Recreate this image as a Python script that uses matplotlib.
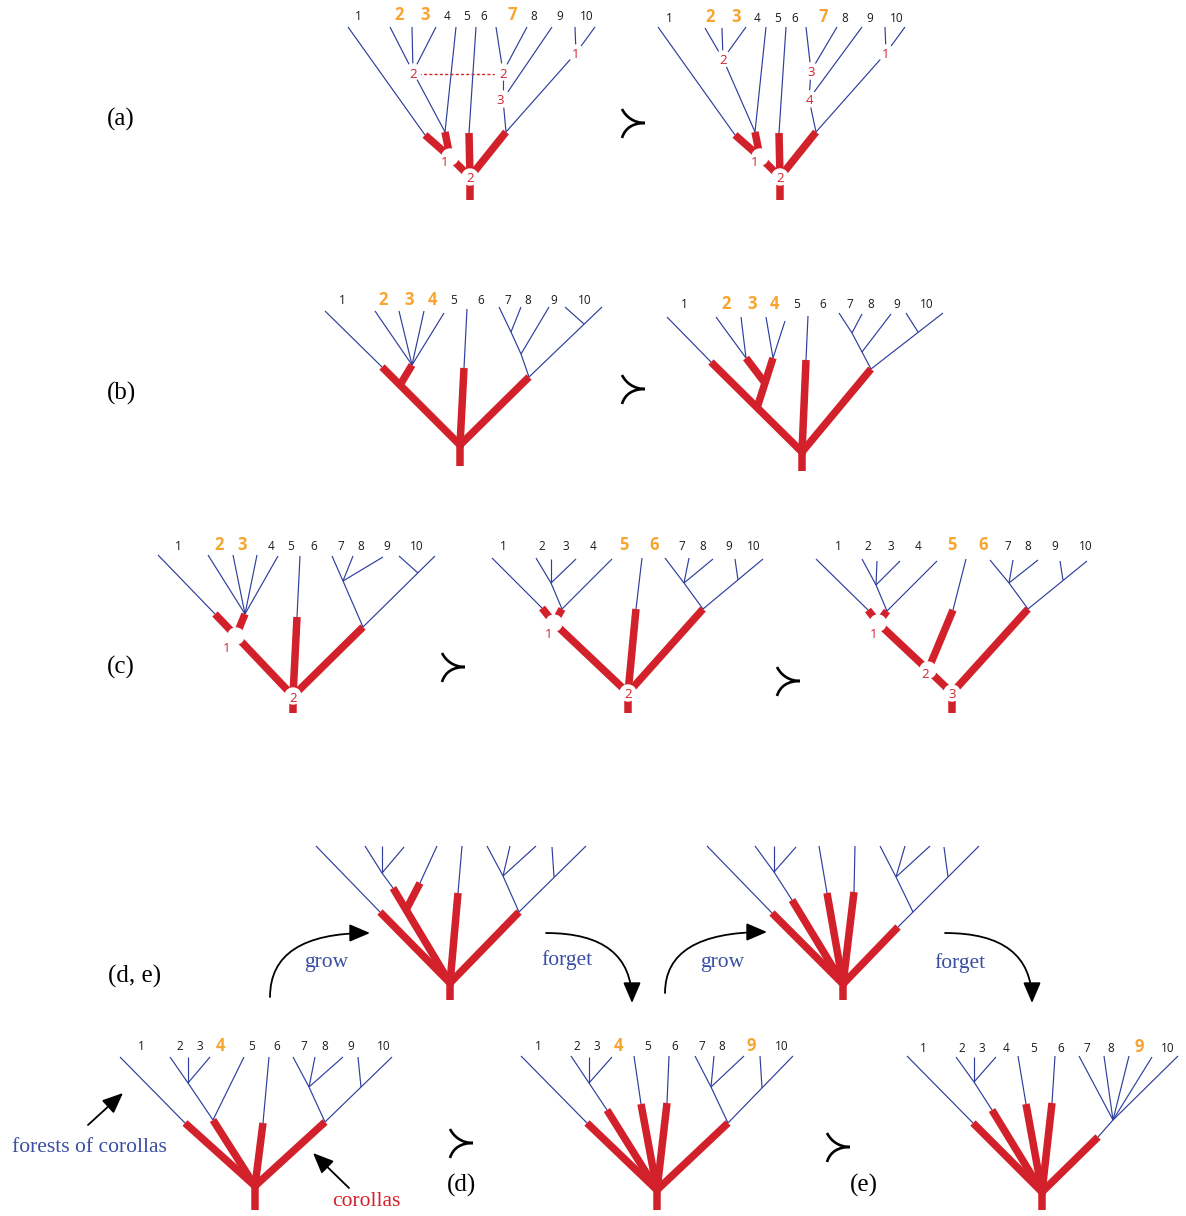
import matplotlib
matplotlib.use("Agg")
import matplotlib.pyplot as plt
from matplotlib.patches import Circle, FancyArrowPatch, PathPatch
from matplotlib.path import Path

BLUE = "#2e3f9c"
RED = "#d3212b"
ORANGE = "#f7a530"
TEXT_BLUE = "#3b4fa2"

LEAVES = [str(i) for i in range(1, 11)]

# ---- row (a) ----
a1_nodes = {"t1": (348, 27), "t2": (390, 27), "t3": (412, 27), "t4": (436, 27), "t5": (456, 27),
            "t6": (476, 27), "t7": (496, 27), "t8": (527, 27), "t9": (552, 27), "t10a": (575, 27),
            "t10b": (595, 27), "g2": (413, 72), "j1": (445, 132), "a": (425, 135), "n1": (450, 157),
            "n2": (470, 177), "m": (469, 133), "r2": (503, 72), "r3": (503, 99), "jr": (506, 132),
            "r1": (576, 53), "base": (470, 200)}
a1_thin = "t1-a t2-g2 t3-g2 t4-g2 g2-j1 t5-j1 t6-m t7-r2 t8-r2 r2-r3 t9-r3 r3-jr t10a-r1 t10b-r1 r1-jr"
a1_thick = "a-n1 j1-n1 n1-n2 m-n2 jr-n2 n2-base"
a1_gaps = ["g2", "r2", "r3", "r1", "n1", "n2"]
a1_marks = [("2", 413, 74), ("2", 503, 74), ("3", 500, 101), ("1", 576, 55), ("1", 445, 163), ("2", 470, 179)]
a1_leaf_x = [358, 399, 425, 447, 467, 484, 512, 534, 560, 587]
a1_leaf_y = 16
a1_hot = ["2", "3", "7"]

a2_nodes = {"t1": (658, 27), "t2": (705, 28), "t3": (722, 28), "t4": (746, 27), "t5": (766, 27),
            "t6": (786, 27), "t7": (806, 27), "t8": (837, 27), "t9": (862, 27), "t10a": (885, 27),
            "t10b": (905, 27), "g2": (723, 59), "j1": (755, 132), "a": (735, 135), "n1": (760, 157),
            "n2": (780, 177), "m": (779, 133), "g3": (811, 71), "g4": (809, 99), "jr": (816, 132),
            "r1": (886, 53), "base": (780, 200)}
a2_thin = "t1-a t2-g2 t3-g2 t4-g2 g2-j1 t5-j1 t6-m t7-g3 t8-g3 g3-g4 t9-g4 g4-jr t10a-r1 t10b-r1 r1-jr"
a2_thick = "a-n1 j1-n1 n1-n2 m-n2 jr-n2 n2-base"
a2_gaps = ["g2", "g3", "g4", "r1", "n1", "n2"]
a2_marks = [("2", 723, 60), ("3", 811, 73), ("4", 809, 101), ("1", 886, 55), ("1", 755, 163), ("2", 780, 179)]
a2_leaf_x = [669, 710, 736, 757, 778, 795, 823, 845, 870, 897]
a2_leaf_y = 18
a2_hot = ["2", "3", "7"]

# ---- row (b) ----
b1_nodes = {"t1": (325, 311), "t2": (375, 311), "t3": (399, 311), "t4": (424, 311), "t4b": (444, 313),
            "t5": (467, 309), "t7": (499, 307), "t8": (521, 307), "t9": (549, 307), "t10a": (565, 307),
            "t10b": (602, 307), "a": (382, 367), "g": (412, 365), "j": (400, 385), "m": (464, 368),
            "s78": (511, 332), "s9": (521, 354), "jr": (529, 377), "s10": (584, 324),
            "root": (460, 445), "base": (460, 466)}
b1_thin = "t1-a t2-g t3-g t4-g t4b-g t5-m t7-s78 t8-s78 s78-s9 t9-s9 s9-jr t10a-s10 t10b-jr"
b1_thick = "a-root j-g m-root jr-root root-base"
b1_leaf_x = [342, 383, 409, 432, 454, 481, 508, 528, 554, 585]
b1_leaf_y = 301
b1_hot = ["2", "3", "4"]

b2_nodes = {"t1": (667, 317), "t2": (716, 317), "t3": (741, 317), "t4a": (766, 317), "t4b": (785, 321),
            "t5": (808, 316), "t7": (839, 313), "t8": (862, 314), "t9": (891, 314), "t10a": (906, 313),
            "t10b": (943, 313), "a": (711, 362), "g23": (746, 358), "g4": (773, 358), "k": (765, 383),
            "j": (757, 408), "m": (806, 360), "s78": (852, 333), "s9": (862, 352), "jr": (871, 369),
            "s10": (918, 332), "root": (802, 452), "base": (802, 471)}
b2_thin = "t1-a t2-g23 t3-g23 t4a-g4 t4b-g4 t5-m t7-s78 t8-s78 s78-s9 t9-s9 s9-jr t10a-s10 t10b-jr"
b2_thick = "a-root g23-k g4-j m-root jr-root root-base"
b2_leaf_x = [684, 726, 752, 774, 797, 823, 850, 871, 897, 927]
b2_leaf_y = 305
b2_hot = ["2", "3", "4"]

# ---- row (c) ----
c1_nodes = {"t1": (158, 555), "t2": (208, 555), "t3": (233, 555), "t3b": (257, 555), "t4": (278, 556),
            "t5": (300, 556), "t7": (332, 556), "t8": (353, 556), "t9": (383, 557), "t10a": (399, 556),
            "t10b": (435, 556), "a": (215, 614), "g": (245, 614), "n1": (236, 636), "n2": (293, 696),
            "m": (297, 617), "s": (343, 581), "jr": (363, 627), "s10": (418, 573), "base": (293, 713)}
c1_thin = "t1-a t2-g t3-g t3b-g t4-g t5-m t7-s t8-s t9-s s-jr t10a-s10 t10b-jr"
c1_thick = "a-n1 g-n1 n1-n2 m-n2 jr-n2 n2-base"
c1_gaps = ["n1", "n2"]
c1_marks = [("1", 227, 648), ("2", 293, 698)]
c1_leaf_x = [178, 219, 242, 271, 291, 314, 341, 361, 387, 417]
c1_leaf_y = 546
c1_hot = ["2", "3"]

c2_nodes = {"t1": (492, 558), "t2": (536, 558), "t3": (551, 559), "t3b": (576, 559), "t4": (612, 559),
            "t5": (642, 558), "t7": (665, 558), "t8": (689, 558), "t9": (713, 559), "t10a": (735, 559),
            "t10b": (763, 559), "s23": (551, 583), "a": (542, 608), "g": (562, 609), "n1": (554, 623),
            "n2": (628, 693), "m": (636, 609), "s789": (684, 583), "jr": (703, 609), "s10": (738, 580),
            "base": (628, 713)}
c2_thin = "t1-a t2-s23 t3-s23 t3b-s23 s23-g t4-g t5-m t7-s789 t8-s789 t9-s789 s789-jr t10a-s10 t10b-jr"
c2_thick = "a-n1 g-n1 n1-n2 m-n2 jr-n2 n2-base"
c2_gaps = ["n1", "n2"]
c2_marks = [("1", 549, 634), ("2", 628, 695)]
c2_leaf_x = [503, 542, 566, 593, 624, 654, 682, 703, 729, 754]
c2_leaf_y = 546
c2_hot = ["5", "6"]

c3_nodes = {"t1": (816, 559), "t2": (862, 559), "t3": (877, 561), "t3b": (900, 561), "t4": (937, 561),
            "t5": (966, 559), "t7": (990, 560), "t8": (1013, 560), "t8b": (1038, 560), "t9": (1060, 561),
            "t10": (1087, 561), "s23": (876, 585), "a": (868, 610), "g": (887, 611), "n1": (878, 623),
            "n2": (928, 670), "m": (953, 610), "n3": (952, 693), "s": (1009, 583), "jr": (1028, 609),
            "s9": (1063, 580), "base": (952, 713)}
c3_thin = "t1-a t2-s23 t3-s23 t3b-s23 s23-g t4-g t5-m t7-s t8-s t8b-s s-jr t9-s9 t10-jr"
c3_thick = "a-n1 g-n1 n1-n2 m-n2 n2-n3 jr-n3 n3-base"
c3_gaps = ["n1", "n2", "n3"]
c3_marks = [("1", 874, 634), ("2", 925, 674), ("3", 952, 695)]
c3_leaf_x = [838, 868, 891, 918, 952, 983, 1008, 1028, 1055, 1086]
c3_leaf_y = 546
c3_hot = ["5", "6"]

# ---- rows (d, e): unlabelled intermediate trees ----
dt1_nodes = {"t1": (316, 846), "t2": (365, 846), "t3": (382, 846), "t3b": (404, 847), "t4": (437, 846),
             "t5": (462, 846), "t7": (487, 846), "t8": (510, 846), "t9": (536, 846), "t10a": (552, 847),
             "t10b": (586, 846), "a": (380, 912), "s23": (382, 873), "b": (393, 888), "c": (420, 883),
             "d": (406, 910), "m": (458, 893), "s789": (503, 876), "jr": (519, 912), "s10": (554, 877),
             "root": (450, 983), "base": (450, 1000)}
dt1_thin = "t1-a t2-s23 t3-s23 t3b-s23 s23-b t4-c t5-m t7-s789 t8-s789 t9-s789 s789-jr t10a-s10 t10b-jr"
dt1_thick = "a-root b-root c-d m-root jr-root root-base"

dt2_nodes = {"t1": (707, 846), "t2": (755, 846), "t3": (774, 846), "t3b": (796, 847), "t4": (819, 846),
             "t5": (855, 846), "t7": (880, 846), "t8": (905, 846), "t9": (930, 846), "t10a": (944, 847),
             "t10b": (979, 846), "a": (772, 913), "s23": (774, 872), "b": (792, 900), "c": (827, 893),
             "m": (854, 892), "s789": (896, 877), "k": (913, 912), "s10": (948, 877), "jr": (898, 927),
             "root": (843, 984), "base": (843, 1000)}
dt2_thin = "t1-a t2-s23 t3-s23 t3b-s23 s23-b t4-c t5-m t7-s789 t8-s789 t9-s789 s789-k t10a-s10 t10b-jr"
dt2_thick = "a-root b-root c-root m-root jr-root root-base"

d1_nodes = {"t1": (120, 1057), "t2": (170, 1057), "t3": (188, 1057), "t3b": (210, 1057), "t4": (244, 1057),
            "t5": (269, 1057), "t7": (293, 1057), "t8": (315, 1057), "t9": (343, 1057), "t10a": (358, 1057),
            "t10b": (392, 1057), "a": (185, 1123), "s23": (188, 1083), "b": (213, 1120), "m": (263, 1123),
            "s789": (309, 1087), "jr": (325, 1122), "s10": (361, 1087), "root": (255, 1186), "base": (255, 1210)}
d1_thin = "t1-a t2-s23 t3-s23 t3b-s23 s23-b t4-b t5-m t7-s789 t8-s789 t9-s789 s789-jr t10a-s10 t10b-jr"
d1_thick = "a-root b-root m-root jr-root root-base"
d1_leaf_x = [141, 180, 200, 221, 252, 277, 304, 325, 351, 384]
d1_leaf_y = 1047
d1_hot = ["4"]

d2_nodes = {"t1": (521, 1056), "t2": (571, 1056), "t3": (589, 1057), "t3b": (612, 1057), "t5": (634, 1056),
            "t6": (669, 1056), "t7": (695, 1056), "t8": (714, 1056), "t9": (744, 1056), "t10a": (760, 1056),
            "t10b": (793, 1056), "a": (587, 1123), "s23": (589, 1083), "b": (607, 1110), "m5": (641, 1104),
            "m6": (667, 1103), "s789": (711, 1087), "jr": (728, 1123), "s10": (762, 1088),
            "root": (657, 1190), "base": (657, 1210)}
d2_thin = "t1-a t2-s23 t3-s23 t3b-s23 s23-b t5-m5 t6-m6 t7-s789 t8-s789 t9-s789 s789-jr t10a-s10 t10b-jr"
d2_thick = "a-root b-root m5-root m6-root jr-root root-base"
d2_leaf_x = [538, 577, 597, 618, 648, 675, 702, 722, 751, 782]
d2_leaf_y = 1047
d2_hot = ["4", "9"]

e_nodes = {"t1": (907, 1056), "t2": (956, 1057), "t3": (974, 1057), "t3b": (996, 1057), "t5": (1018, 1056),
           "t6": (1055, 1056), "t7": (1079, 1056), "t8": (1104, 1056), "t9": (1129, 1056), "t10a": (1152, 1057),
           "t10b": (1178, 1056), "a": (973, 1123), "s23": (974, 1082), "b": (992, 1110), "m5": (1026, 1104),
           "m6": (1052, 1103), "s": (1113, 1120), "jr": (1098, 1137), "root": (1042, 1192), "base": (1042, 1210)}
e_thin = "t1-a t2-s23 t3-s23 t3b-s23 s23-b t5-m5 t6-m6 t7-s t8-s t9-s t10a-s t10b-s s-jr"
e_thick = "a-root b-root m5-root m6-root jr-root root-base"
e_leaf_x = [923, 962, 982, 1006, 1034, 1061, 1087, 1111, 1139, 1168]
e_leaf_y = 1048
e_hot = ["9"]

panel_labels = [("(a)", 121, 119), ("(b)", 121, 393), ("(c)", 121, 667), ("(d, e)", 135, 976),
                ("(d)", 462, 1185), ("(e)", 864, 1185)]
# tips of the "succeeds" signs
succ_tips = [(645, 123), (645, 389), (465, 667), (800, 681), (473, 1143), (850, 1147)]
grow_arrows = [((270, 997), (370, 933)), ((665, 993), (767, 932))]
forget_arrows = [((546, 933), (632, 1003)), ((945, 933), (1032, 1003))]
arrow_words = [("grow", 326, 963), ("forget", 567, 960), ("grow", 722, 963), ("forget", 960, 963)]

W, H = 1186, 1216
fig = plt.figure(figsize=(W / 100, H / 100), dpi=100)
ax = fig.add_axes([0, 0, 1, 1])
ax.set_xlim(0, W)
ax.set_ylim(H, 0)
ax.axis("off")

SANS = ["Open Sans", "DejaVu Sans"]
SERIF = ["Liberation Serif", "DejaVu Serif"]


def edges(spec):
    return [e.split("-") for e in spec.split()]


def draw_tree(nodes, thin, thick, gaps=(), dashed=None):
    for p, q in edges(thin):
        (x0, y0), (x1, y1) = nodes[p], nodes[q]
        ax.plot([x0, x1], [y0, y1], color=BLUE, lw=0.85, solid_capstyle="butt", zorder=2)
    degree = {}
    for p, q in edges(thick):
        (x0, y0), (x1, y1) = nodes[p], nodes[q]
        ax.plot([x0, x1], [y0, y1], color=RED, lw=5.4, solid_capstyle="butt", zorder=3)
        degree[q] = degree.get(q, 0) + 1
        degree[p] = degree.get(p, 0) + 1
    for n, d in degree.items():
        if d >= 3 and n not in gaps:
            ax.plot(*nodes[n], "o", ms=5.2, color=RED, mec="none", zorder=3)
    if dashed:
        (x0, y0), (x1, y1) = nodes[dashed[0]], nodes[dashed[1]]
        ax.plot([x0, x1], [y0 + 2, y1 + 2], color=RED, lw=1.0, dashes=(2.2, 1.6), zorder=2)
    for g in gaps:
        ax.add_patch(Circle(nodes[g], 8, color="white", zorder=4))


def draw_leaves(xs, y, hot):
    for name, x in zip(LEAVES, xs):
        if name in hot:
            ax.text(x, y - 1, name, color=ORANGE, fontsize=12, fontweight="bold",
                    ha="center", va="center", family=SANS, zorder=5)
        else:
            ax.text(x, y, name, color="#1a1a1a", fontsize=8.5,
                    ha="center", va="center", family=SANS, zorder=5)


def draw_marks(marks):
    for t, x, y in marks:
        ax.text(x, y, t, color=RED, fontsize=9.5, ha="center", va="center", family=SANS, zorder=5)


def draw_succ(tx, ty):
    # two curved strokes meeting at a point on the right
    upper = Path([(tx - 23, ty - 14), (tx - 19, ty - 6), (tx - 11, ty), (tx, ty)],
                 [Path.MOVETO, Path.CURVE4, Path.CURVE4, Path.CURVE4])
    lower = Path([(tx, ty), (tx - 12, ty), (tx - 20, ty + 5), (tx - 23, ty + 15)],
                 [Path.MOVETO, Path.CURVE4, Path.CURVE4, Path.CURVE4])
    for p in (upper, lower):
        ax.add_patch(PathPatch(p, fill=False, lw=1.9, color="black", capstyle="butt"))


draw_tree(a1_nodes, a1_thin, a1_thick, a1_gaps, dashed=("g2", "r2"))
draw_marks(a1_marks)
draw_leaves(a1_leaf_x, a1_leaf_y, a1_hot)
draw_tree(a2_nodes, a2_thin, a2_thick, a2_gaps)
draw_marks(a2_marks)
draw_leaves(a2_leaf_x, a2_leaf_y, a2_hot)

draw_tree(b1_nodes, b1_thin, b1_thick)
draw_leaves(b1_leaf_x, b1_leaf_y, b1_hot)
draw_tree(b2_nodes, b2_thin, b2_thick)
draw_leaves(b2_leaf_x, b2_leaf_y, b2_hot)

draw_tree(c1_nodes, c1_thin, c1_thick, c1_gaps)
draw_marks(c1_marks)
draw_leaves(c1_leaf_x, c1_leaf_y, c1_hot)
draw_tree(c2_nodes, c2_thin, c2_thick, c2_gaps)
draw_marks(c2_marks)
draw_leaves(c2_leaf_x, c2_leaf_y, c2_hot)
draw_tree(c3_nodes, c3_thin, c3_thick, c3_gaps)
draw_marks(c3_marks)
draw_leaves(c3_leaf_x, c3_leaf_y, c3_hot)

draw_tree(dt1_nodes, dt1_thin, dt1_thick)
draw_tree(dt2_nodes, dt2_thin, dt2_thick)
draw_tree(d1_nodes, d1_thin, d1_thick)
draw_leaves(d1_leaf_x, d1_leaf_y, d1_hot)
draw_tree(d2_nodes, d2_thin, d2_thick)
draw_leaves(d2_leaf_x, d2_leaf_y, d2_hot)
draw_tree(e_nodes, e_thin, e_thick)
draw_leaves(e_leaf_x, e_leaf_y, e_hot)

for t, x, y in panel_labels:
    ax.text(x, y, t, fontsize=18, ha="center", va="center", family=SERIF, color="black")

for tx, ty in succ_tips:
    draw_succ(tx, ty)

for (p, q) in grow_arrows:
    ax.add_patch(FancyArrowPatch(p, q, connectionstyle="angle3,angleA=90,angleB=0",
                                 arrowstyle="-|>,head_length=0.7,head_width=0.3",
                                 mutation_scale=18, lw=1.3, color="black", shrinkA=0, shrinkB=0))
for (p, q) in forget_arrows:
    ax.add_patch(FancyArrowPatch(p, q, connectionstyle="angle3,angleA=0,angleB=90",
                                 arrowstyle="-|>,head_length=0.7,head_width=0.3",
                                 mutation_scale=18, lw=1.3, color="black", shrinkA=0, shrinkB=0))
for t, x, y in arrow_words:
    ax.text(x, y, t, fontsize=15.5, ha="center", va="center", family=SERIF, color=TEXT_BLUE)

# annotations of the bottom-left tree
ax.text(89, 1147, "forests of corollas", fontsize=15.5, ha="center", va="center", family=SERIF, color=TEXT_BLUE)
ax.text(366, 1202, "corollas", fontsize=15.5, ha="center", va="center", family=SERIF, color=RED)
ax.add_patch(FancyArrowPatch((88, 1125), (123, 1093), arrowstyle="-|>,head_length=0.7,head_width=0.3",
                             mutation_scale=18, lw=1.3, color="black", shrinkA=0, shrinkB=0))
ax.add_patch(FancyArrowPatch((349, 1188), (313, 1153), arrowstyle="-|>,head_length=0.7,head_width=0.3",
                             mutation_scale=18, lw=1.3, color="black", shrinkA=0, shrinkB=0))

fig.savefig("out.png", dpi=100)
